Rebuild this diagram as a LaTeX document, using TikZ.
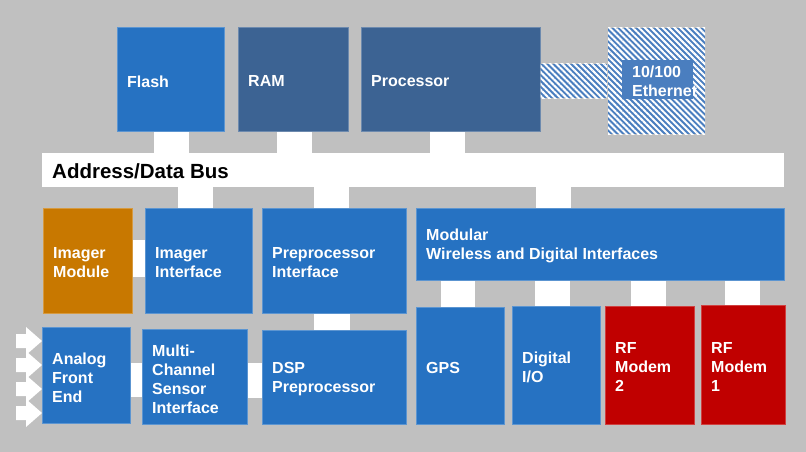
\documentclass[tikz,border=0pt]{standalone}
\usepackage{fontspec}
\setmainfont{Liberation Sans}
\usetikzlibrary{patterns.meta,calc}
\definecolor{bg}{HTML}{C0C0C0}
\definecolor{mblue}{HTML}{2672C2}
\definecolor{dblue}{HTML}{3C6393}
\definecolor{ethblue}{HTML}{4A7EBF}
\definecolor{orng}{HTML}{C87800}
\definecolor{rred}{HTML}{C00000}
\tikzset{
  blockbox/.style={anchor=north west, inner sep=0pt, line width=0.6pt},
  blocktext/.style={anchor=west, align=left, text=white, inner sep=0pt,
    font=\fontsize{16}{19}\selectfont\bfseries},
  conn/.style={fill=white},
  hatch/.style={preaction={fill=ethblue},
    pattern={Lines[angle=-45,distance=4.2pt,line width=2pt]}, pattern color=white},
  inarrow/.style={fill=white}
}
\newcommand\mkblock[7]{%
  \node[blockbox, fill=#6, draw=#6!75!white, minimum width={#4pt-#2pt}, minimum height={#5pt-#3pt}] (#1) at (#2,#3) {};
  \node[blocktext] (#1-t) at ([xshift=10pt,yshift=-2pt]#1.west) {#7};
}
\begin{document}
\begin{tikzpicture}[x=1pt,y=-1pt]
\fill[bg] (0,0) rectangle (806,452);
\useasboundingbox (0,0) rectangle (806,452);
% top row
\mkblock{flash}{117}{27}{224}{131}{mblue}{Flash}
\mkblock{ram}{238}{27}{348}{131}{dblue}{RAM}
\mkblock{proc}{361}{27}{540}{131}{dblue}{Processor}
\node[blockbox, hatch, minimum width=97pt, minimum height=106pt] (eth) at (607,27) {};
\node[blockbox, fill=ethblue, minimum width=71pt, minimum height=39pt] (ethlab) at (622,60) {};
\node[blocktext] (eth-t) at ([xshift=10pt,yshift=-1pt]ethlab.west) {10/100\\Ethernet};
\path[hatch] (proc.east |- 0,64) rectangle (eth.west |- 0,98);
% bus
\node[anchor=north west, fill=white, minimum width=742pt, minimum height=34pt, inner sep=0pt] (bus) at (42,153) {};
\node[anchor=west, inner sep=0pt, font=\fontsize{20.5}{24}\selectfont\bfseries] (bus-t) at ([xshift=10pt,yshift=-1pt]bus.west) {Address/Data Bus};
% middle row
\mkblock{imod}{43}{208}{132}{313}{orng}{Imager\\Module}
\mkblock{iif}{145}{208}{252}{313}{mblue}{Imager\\Interface}
\mkblock{ppif}{262}{208}{406}{313}{mblue}{Preprocessor\\Interface}
\mkblock{mod}{416}{208}{784}{280}{mblue}{Modular\\Wireless and Digital Interfaces}
% bottom row
\mkblock{afe}{42}{327}{130}{423}{mblue}{Analog\\Front\\End}
\mkblock{mcs}{142}{329}{247}{424}{mblue}{Multi-\\Channel\\Sensor\\Interface}
\mkblock{dsp}{262}{330}{406}{424}{mblue}{DSP\\Preprocessor}
\mkblock{gps}{416}{307}{504}{424}{mblue}{GPS}
\mkblock{dio}{512}{306}{600}{424}{mblue}{Digital\\I/O}
\mkblock{rf2}{605}{306}{694}{424}{rred}{RF\\Modem\\2}
\mkblock{rf1}{701}{305}{785}{424}{rred}{RF\\Modem\\1}
% connectors to bus
\fill[conn] (154,0 |- flash.south) rectangle (189,0 |- bus.north);
\fill[conn] (277,0 |- ram.south) rectangle (312,0 |- bus.north);
\fill[conn] (430,0 |- proc.south) rectangle (465,0 |- bus.north);
\fill[conn] (178,0 |- bus.south) rectangle (213,0 |- iif.north);
\fill[conn] (314,0 |- bus.south) rectangle (349,0 |- ppif.north);
\fill[conn] (536,0 |- bus.south) rectangle (571,0 |- mod.north);
% other connectors
\fill[conn] (imod.east |- 0,240) rectangle (iif.west |- 0,277);
\fill[conn] (314,0 |- ppif.south) rectangle (350,0 |- dsp.north);
\fill[conn] (afe.east |- 0,363) rectangle (mcs.west |- 0,397);
\fill[conn] (mcs.east |- 0,363) rectangle (dsp.west |- 0,398);
\fill[conn] (441,0 |- mod.south) rectangle (475,0 |- gps.north);
\fill[conn] (535,0 |- mod.south) rectangle (570,0 |- dio.north);
\fill[conn] (631,0 |- mod.south) rectangle (666,0 |- rf2.north);
\fill[conn] (725,0 |- mod.south) rectangle (760,0 |- rf1.north);
% input arrows
\foreach \yy [count=\i] in {341,365,389,413} {
  \coordinate (ain\i) at (afe.west |- 0,\yy);
  \fill[inarrow] (ain\i) -- ++(-16,-14) -- ++(0,7) -- ++(-10,0) -- ++(0,14) -- ++(10,0) -- ++(0,7) -- cycle;
}
\end{tikzpicture}
\end{document}
